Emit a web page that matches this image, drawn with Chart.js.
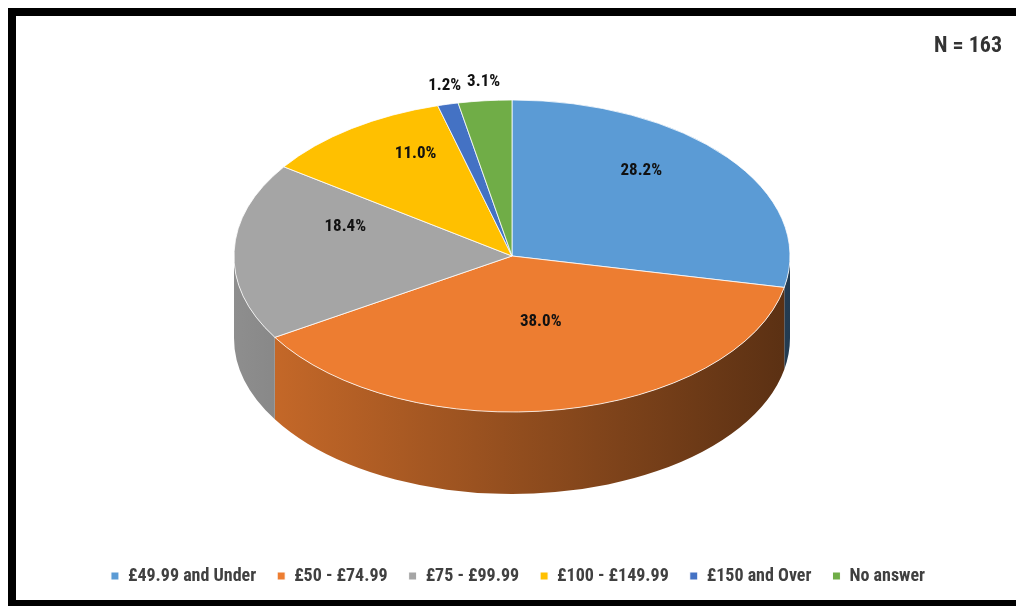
<!DOCTYPE html>
<html><head><meta charset="utf-8">
<script src="https://cdn.jsdelivr.net/npm/chart.js@4.4.1/dist/chart.umd.min.js"></script>
<style>
html,body{margin:0;padding:0;overflow:hidden;background:#fff;width:1016px;height:606px}
#frame{position:absolute;left:8px;top:8px;width:1100px;height:584px;border:8px solid #000}
#wrap{position:absolute;left:0;top:0;width:1016px;height:606px}
</style></head><body>
<div id="frame"></div>
<div id="wrap"><canvas id="c" width="1016" height="606"></canvas></div>
<script>
// ---- data ----
const categories = ['£49.99 and Under', '£50 - £74.99', '£75 - £99.99', '£100 - £149.99', '£150 and Over', 'No answer'];
const percentages = [28.2, 38.0, 18.4, 11.0, 1.2, 3.1];
const sampleSize = 163;
const colors = ['#5B9BD5', '#ED7D31', '#A5A5A5', '#FFC000', '#4472C4', '#70AD47'];

// ---- geometry / style ----
const FONT = "'Liberation Sans Narrow', 'Roboto Condensed', 'Liberation Sans', sans-serif";
const CX = 512, CY = 256, RX = 278, RY = 156, DEPTH = 82, LABEL_LIFT = 26;

function shade(hex, f) {
  const n = parseInt(hex.slice(1), 16);
  const r = Math.round(((n >> 16) & 255) * f), g = Math.round(((n >> 8) & 255) * f), b = Math.round((n & 255) * f);
  return `rgb(${r},${g},${b})`;
}

const pie3d = {
  id: 'pie3d',
  beforeDatasetsDraw(chart) {
    const ctx = chart.ctx;
    const arcs = chart.getDatasetMeta(0).data;
    if (!arcs.length) return;
    const a0 = arcs[0];
    const R = a0.outerRadius;
    // side walls (front half only)
    arcs.forEach((arc, i) => {
      const s = Math.max(arc.startAngle, 0), e = Math.min(arc.endAngle, Math.PI);
      if (e <= s) return;
      const g = ctx.createLinearGradient(CX - RX, 0, CX + RX, 0);
      g.addColorStop(0, shade(colors[i], 0.86));
      g.addColorStop(1, shade(colors[i], 0.38));
      ctx.save();
      ctx.beginPath();
      ctx.ellipse(CX, CY, RX, RY, 0, s, e, false);
      ctx.ellipse(CX, CY + DEPTH, RX, RY, 0, e, s, true);
      ctx.closePath();
      ctx.fillStyle = g;
      ctx.fill();
      ctx.restore();
    });
    ctx.save();
    ctx.translate(CX, CY);
    ctx.scale(RX / R, RY / R);
    ctx.translate(-a0.x, -a0.y);
  },
  afterDatasetsDraw(chart) {
    const ctx = chart.ctx;
    ctx.restore();
    const arcs = chart.getDatasetMeta(0).data;
    const total = percentages.reduce((a, b) => a + b, 0);
    ctx.save();
    ctx.font = `bold 17px ${FONT}`;
    ctx.fillStyle = '#111111';
    ctx.textAlign = 'center';
    ctx.textBaseline = 'middle';
    arcs.forEach((arc, i) => {
      const mid = (arc.startAngle + arc.endAngle) / 2;
      let x, y;
      if (percentages[i] / total < 0.05) {
        x = CX + RX * 1.05 * Math.cos(mid);
        y = CY + RY * 1.12 * Math.sin(mid);
      } else {
        x = CX + 0.6 * RX * Math.cos(mid);
        y = CY - LABEL_LIFT + 0.6 * RY * Math.sin(mid);
      }
      ctx.fillText(percentages[i].toFixed(1) + '%', x, y);
    });
    ctx.restore();
  }
};

new Chart(document.getElementById('c'), {
  type: 'pie',
  data: {
    labels: categories,
    datasets: [{
      data: percentages,
      backgroundColor: colors,
      borderColor: '#ffffff',
      borderWidth: 1,
      radius: RX
    }]
  },
  options: {
    responsive: false,
    animation: false,
    events: [],
    rotation: 0,
    layout: { padding: { left: 34, right: 14, top: 0, bottom: 11 } },
    plugins: {
      legend: {
        position: 'bottom',
        labels: {
          boxWidth: 8, boxHeight: 8, padding: 21, color: '#404040',
          font: { family: FONT, size: 18, weight: 'bold' }
        }
      },
      title: {
        display: true, text: 'N = ' + sampleSize, align: 'end', color: '#333333',
        font: { family: FONT, size: 22, weight: 'bold' },
        padding: { top: 33, bottom: 0 }
      },
      tooltip: { enabled: false }
    }
  },
  plugins: [pie3d]
});
</script>
</body></html>
